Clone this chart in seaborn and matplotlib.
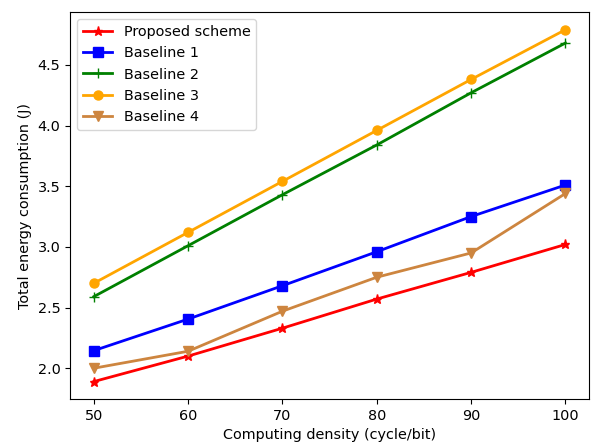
import pandas as pd
import seaborn as sns
import matplotlib
matplotlib.use("Agg")
import matplotlib.pyplot as plt

# data
density = [50, 60, 70, 80, 90, 100]
proposed = [1.89, 2.10, 2.33, 2.57, 2.79, 3.02]
baseline1 = [2.145, 2.405, 2.68, 2.96, 3.25, 3.51]
baseline2 = [2.59, 3.01, 3.43, 3.84, 4.27, 4.68]
baseline3 = [2.70, 3.12, 3.54, 3.96, 4.38, 4.79]
baseline4 = [2.00, 2.14, 2.47, 2.75, 2.95, 3.44]

names = ['Proposed scheme', 'Baseline 1', 'Baseline 2', 'Baseline 3', 'Baseline 4']
series = [proposed, baseline1, baseline2, baseline3, baseline4]
colors = ['red', 'blue', 'green', 'orange', 'peru']
markers = ['*', 's', '+', 'o', 'v']

plt.rcParams['font.size'] = 10.4

fig, ax = plt.subplots(figsize=(5.95, 4.47), dpi=100)

for name, vals, c, m in zip(names, series, colors, markers):
    df = pd.DataFrame({'x': density, 'y': vals})
    sns.lineplot(data=df, x='x', y='y', ax=ax, color=c, marker=m,
                 markersize=6.5, markeredgecolor=c, markeredgewidth=1,
                 linewidth=2, label=name)

ax.set_xlabel('Computing density (cycle/bit)')
ax.set_ylabel('Total energy consumption (J)')
ax.legend(loc='upper left')

plt.subplots_adjust(left=0.118, right=0.99, top=0.973, bottom=0.107)
fig.savefig('out.png', dpi=100)
